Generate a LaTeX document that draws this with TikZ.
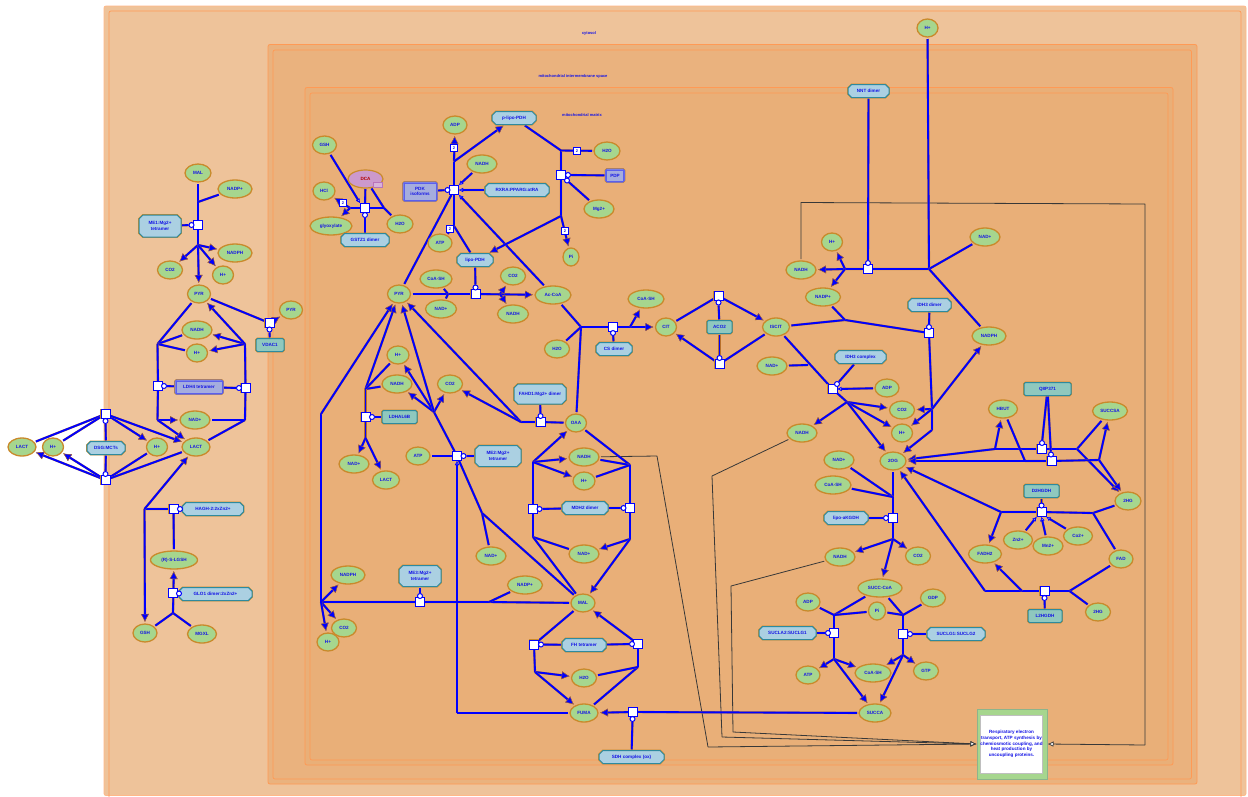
\documentclass[tikz,border=0pt]{standalone}
\usepackage{fontspec}
\setmainfont{Liberation Sans}
\usetikzlibrary{shapes.misc,shapes.geometric,arrows.meta}
\pgfdeclarelayer{comp}\pgfdeclarelayer{conn}
\pgfsetlayers{comp,conn,main}
\definecolor{cyto}{HTML}{EEC39A}
\definecolor{imsc}{HTML}{EAB27E}
\definecolor{matr}{HTML}{E9AF78}
\definecolor{bord}{HTML}{FF9A55}
\definecolor{spf}{HTML}{A6D68E}
\definecolor{spd}{HTML}{C98A2B}
\definecolor{prf}{HTML}{ABD0E2}
\definecolor{prd}{HTML}{2E8A9E}
\definecolor{tef}{HTML}{8FC8BE}
\definecolor{cxf}{HTML}{A5ADDE}
\definecolor{halo}{HTML}{B8702A}
\definecolor{txt}{HTML}{1414E6}
\tikzset{x=1pt,y=-1pt,
 every node/.style={font=\fontsize{4.6}{5.6}\selectfont\bfseries,text=txt,inner sep=0pt,align=center},
 sp/.style={ellipse,draw=spd,fill=spf,line width=1.3,minimum height=18,outer sep=2},
 pr/.style={chamfered rectangle,chamfered rectangle xsep=2,chamfered rectangle ysep=2,draw=prd,fill=prf,line width=1,preaction={draw=spd,line width=1.9},outer sep=1},
 te/.style={rectangle,rounded corners=1.5,draw=prd,fill=tef,line width=1,preaction={draw=spd,line width=1.9},outer sep=1},
 cx/.style={rectangle,rounded corners=1.5,draw=cxf!60!blue,fill=cxf,line width=1,preaction={draw=spd,line width=1.9},outer sep=1},
 rxbox/.style={rectangle,draw=blue,fill=white,line width=1,minimum size=9,preaction={draw=spd,line width=1.7}},
 cirm/.style={circle,draw=blue,fill=white,line width=1,minimum size=5},
 stbox/.style={rectangle,draw=blue,fill=white,line width=1,minimum size=7,font=\fontsize{4}{4}\selectfont\bfseries},
 rx/.style={draw=blue,line width=1.9,preaction={draw=halo,line width=2.2},line join=round},
 ar/.style={rx,-{Latex[length=8,width=8,color=halo,fill=blue,line width=.35]}},
 mo/.style={rx,-{Latex[length=4,width=4.5,open,color=blue,fill=white,line width=.7]}},
 thinl/.style={draw=black!78,line width=.8,line join=round},
 tharr/.style={thinl,-{Latex[open,length=6,width=5.5,color=black!80,fill=white,line width=.7]}},
 lbl/.style={font=\fontsize{4}{5}\selectfont\bfseries}
}
\newcommand{\Spec}[5]{\node[sp,minimum width=#4] (#1) at (#2,#3) {#5};}
\newcommand{\Prot}[6]{\node[pr,minimum width=#4,minimum height=#5] (#1) at (#2,#3) {#6};}
\newcommand{\Teal}[6]{\node[te,minimum width=#4,minimum height=#5] (#1) at (#2,#3) {#6};}
\newcommand{\Cplx}[6]{\node[cx,minimum width=#4,minimum height=#5] (#1) at (#2,#3) {#6};\draw[draw=cxf!55!blue,line width=.5] ([shift={(2,-2)}]#1.south west) rectangle ([shift={(-2,2)}]#1.north east);}
\newcommand{\Rx}[3]{\node[rxbox] (#1) at (#2,#3) {};}
\newcommand{\Cir}[3]{\node[cirm] (#1) at (#2,#3) {};}
\newcommand{\Stb}[3]{\node[stbox] (#1) at (#2,#3) {2};}
\newcommand{\J}[3]{\coordinate (#1) at (#2,#3);}
\begin{document}
\begin{tikzpicture}
\useasboundingbox (0,0) rectangle (1248,796);
\begin{pgfonlayer}{comp}
\fill[white] (0,0) rectangle (1248,796);
\draw[fill=cyto,draw=bord!70!white,line width=.8,rounded corners=2] (104,6) rectangle (1246,795.5);
\draw[draw=bord,line width=.7,rounded corners=2] (109,11) rectangle (1241,800);
\draw[fill=imsc,draw=bord,line width=.8,rounded corners=2] (268,44.5) rectangle (1197,784);
\draw[draw=bord,line width=.7,rounded corners=2] (273,50) rectangle (1191.5,779);
\draw[fill=matr,draw=bord,line width=.8,rounded corners=2] (305,87.5) rectangle (1173,765);
\draw[draw=bord,line width=.7,rounded corners=2] (310,93) rectangle (1168,760);
\end{pgfonlayer}
\node[lbl] (lcyt) at (589,33) {cytosol};
\node[lbl] (lims) at (573,76.5) {mitochondrial intermembrane space};
\node[lbl] (lmat) at (582,115.5) {mitochondrial matrix};
% ---------- cytosol left
\Spec{malA}{198}{173}{26}{MAL}
\Spec{nadppA}{235}{189}{34}{NADP+}
\Prot{meA}{160}{226}{42}{22}{ME1:Mg2+\\tetramer}
\Rx{sqA}{198}{225}\Cir{cA}{191.5}{225}
\J{jAa}{198}{202}\J{jAb}{198}{245}
\Spec{nadphA}{235}{253}{34}{NADPH}
\Spec{co2A}{170}{270}{25}{CO2}
\Spec{hA}{223}{275}{21}{H+}
\Spec{pyrA}{199}{294}{23}{PYR}
\Spec{pyrB}{291}{310}{23}{PYR}
\Teal{vdac}{270}{345}{28}{13}{VDAC1}
\Rx{sqV}{269.5}{323}\Cir{cV}{269.5}{329.5}
\Spec{nadhL}{197}{330}{30}{NADH}
\Spec{hL}{197}{353}{21}{H+}
\Cplx{ldh}{199}{387}{48}{14}{LDH4 tetramer}
\Rx{sqLl}{158}{386}\Cir{cLl}{164}{386}
\Rx{sqLr}{245.5}{388}\Cir{cLr}{239}{388}
\J{jLtl}{157.5}{344}\J{jLtr}{245}{344}\J{jLbl}{157.5}{420}\J{jLbr}{245}{420}
\Spec{nadL}{195}{420}{30}{NAD+}
\Spec{lactR}{196}{447}{28}{LACT}
\Spec{lactL}{22}{447}{28}{LACT}
\Spec{hM}{53}{447}{21}{H+}
\Spec{hR}{157}{447}{21}{H+}
\Prot{dsg}{106}{448}{38}{13}{DSG:MCTs}
\Rx{sqDt}{105.5}{414}\Cir{cDt}{105.5}{421}
\Rx{sqDb}{105.5}{480}\Cir{cDb}{105.5}{474}
\Prot{hagh}{213}{509}{61}{13}{HAGH-2:2xZn2+}
\Rx{sqH}{173.5}{509}\Cir{cH}{180}{509}\J{jH}{144.5}{509}
\Spec{lgsh}{174}{560}{47}{(R)-S-LGSH}
\Prot{glo}{215.5}{594}{73}{13}{GLO1 dimer:2xZn2+}
\Rx{sqG}{173}{593}\Cir{cG}{179}{593.5}\J{jG}{173}{613}
\Spec{gshA}{145}{633}{24}{GSH}
\Spec{mgxl}{202}{634}{29}{MGXL}
% ---------- matrix: DCA
\Spec{gshB}{324.5}{145}{24}{GSH}
\Spec{hcl}{324}{191}{22}{HCl}
\Spec{glyox}{331}{226}{42}{glyoxylate}
\node[ellipse,draw=spd,fill=violet!40!white,line width=1.2,minimum width=35,minimum height=18,text=red!70!black,outer sep=1] (dca) at (365.5,179) {DCA};
\node[rectangle,draw=violet!55,fill=violet!30!white,line width=.5,minimum width=9,minimum height=5] (dcab) at (378,184.5) {};
\Spec{h2oC}{400}{224}{26}{H2O}
\Prot{gstz}{365}{240}{48}{13}{GSTZ1 dimer}
\Rx{sqC}{365}{208}\Cir{cC}{365}{215}\J{jCl}{350}{208}\J{jCr}{384}{208}
\Stb{stC}{343}{203}
% PDK/PDH
\Spec{adpP}{455}{125}{24}{ADP}
\Prot{plipo}{514}{118}{44}{13}{p-lipo-PDH}
\Spec{nadhP}{482}{164}{30}{NADH}
\Cplx{pdk}{420}{191.5}{34}{19}{PDK\\isoforms}
\Rx{sqP}{454}{190}\Cir{cP}{447.5}{190}
\Prot{rxra}{517}{190}{64}{13}{RXRA:PPARG:atRA}
\J{jPu}{454}{161.5}\J{jPd}{454}{226}
\Stb{stPu}{454}{148}\Stb{stPd}{450}{229}
\Spec{atpP}{440}{243}{24}{ATP}
\Prot{lipo}{475}{260}{36}{13}{lipo-PDH}
\Spec{pyrM}{399}{294}{23}{PYR}
\Spec{coaA}{436}{279}{32}{CoA-SH}
\Spec{nadA}{441}{309}{31}{NAD+}
\Spec{co2P}{513}{276}{25}{CO2}
\Spec{nadhD}{513}{314}{31}{NADH}
\Spec{acoa}{553}{295}{36}{Ac-CoA}
\Rx{sqD}{475.5}{294}\Cir{cD}{475.5}{287.5}\J{jDl}{448}{294}\J{jDr}{500}{294}
\J{jQt}{561}{150.5}\J{jQb}{561}{216}
\Stb{stQa}{577}{151}\Stb{stQb}{565}{231}
\Spec{h2oQ}{607}{151}{26}{H2O}
\Rx{sqQ}{561}{175}\Cir{cQa}{568}{175}\Cir{cQb}{567}{180.5}
\Cplx{pdp}{615}{175.5}{19}{13}{PDP}
\Spec{mgQ}{599}{209}{30}{Mg2+}
\Spec{piQ}{571}{257}{16}{Pi}
% LDHAL6B / ME2 / FAHD
\Spec{hN}{398}{355}{22}{H+}
\Spec{nadhN}{397}{384}{30}{NADH}
\Spec{co2N}{450}{384}{25}{CO2}
\Teal{ldh6}{399.5}{417}{35}{13}{LDHAL6B}
\Rx{sqN}{365.5}{417}\Cir{cN}{372}{417}\J{jNt}{365.5}{389}\J{jNb}{365.5}{438}
\Spec{nadN}{354}{464}{30}{NAD+}
\Spec{lactN}{386}{480}{27}{LACT}
\Spec{atpE}{418}{456}{24}{ATP}
\Prot{me2}{498}{456}{46}{21}{ME2:Mg2+\\tetramer}
\Rx{sqE}{457}{456}\Cir{cE}{463.5}{456}
\J{jEu}{434}{412}\J{jEd}{482}{513}
\Spec{nadE}{491}{556}{30}{NAD+}
\Prot{fahd}{540}{394}{52}{20}{FAHD1:Mg2+ dimer}
\Rx{sqF}{540.5}{422}\Cir{cF}{540.5}{416}\J{jF}{521}{422}
\Spec{oaa}{576}{423}{21}{OAA}
% MDH2
\Spec{nadhO}{584}{457}{30}{NADH}
\Spec{hO}{584}{481}{22}{H+}
\Prot{mdh}{585}{508}{46}{13}{MDH2 dimer}
\Rx{sqOl}{533}{509}\Cir{cOl}{539.5}{509}
\Rx{sqOr}{630}{508}\Cir{cOr}{623.5}{508}
\J{jOtl}{533}{462}\J{jObl}{533}{537}\J{jOtr}{630}{465}\J{jObr}{630}{539}
\Spec{nadO}{584}{554}{30}{NAD+}
\Spec{malM}{583}{603}{24}{MAL}
% ME3
\Prot{me3}{420}{576}{42}{21}{ME3:Mg2+\\tetramer}
\Rx{sqT}{420}{602}\Cir{cT}{420}{596}\J{jTr}{489}{602}\J{jTl}{321}{602}\J{jTu}{321}{414}
\Spec{nadppT}{525}{585}{35}{NADP+}
\Spec{nadphT}{348}{575}{34}{NADPH}
\Spec{co2T}{344}{628}{25}{CO2}
\Spec{hT}{328}{642}{22}{H+}
% FH
\Prot{fh}{584}{645}{44}{13}{FH tetramer}
\Rx{sqHl}{534}{644.5}\Cir{cHl}{541}{644.5}
\Rx{sqHr}{638}{644}\Cir{cHr}{632}{644}
\J{jHl}{535}{672}\J{jHr}{638}{667}
\Spec{h2oH}{584}{678}{25}{H2O}
\Spec{fuma}{584}{713}{28}{FUMA}
\J{jFu}{457}{713}
\Rx{sqS}{633}{712}\Cir{cS}{632.5}{719}
\Prot{sdh}{631.5}{757}{65}{13}{SDH complex (ox)}
\Spec{succa}{875}{713}{32}{SUCCA}
% CS / ACO
\Spec{cit}{666}{327}{21}{CIT}
\Prot{cs}{614}{349}{36}{13}{CS dimer}
\Rx{sqCS}{613}{327}\Cir{cCS}{613}{333}
\J{jCSl}{581}{327}\J{jCSr}{630}{327}
\Spec{coaB}{646}{299}{36}{CoA-SH}
\Spec{h2oCS}{557}{349}{25}{H2O}
\Teal{aco}{719.5}{327}{25}{13}{ACO2}
\Rx{sqAt}{718.5}{296}\Cir{cAt}{718.5}{302.5}
\Rx{sqAb}{719.5}{364}\Cir{cAb}{719.5}{358}
\Spec{iscit}{776}{327}{27}{ISCIT}
% IDH3
\Prot{idh3}{860.5}{357}{51}{13}{IDH3 complex}
\Rx{sqI}{832.5}{389}\Cir{cI}{837}{384}
\Spec{adpI}{887}{388}{24}{ADP}
\Spec{nadI}{772}{366}{30}{NAD+}
\J{jIa}{808}{365}\J{jIb}{847}{402}
\Spec{co2I}{902}{410}{25}{CO2}
\Spec{hI}{902}{433}{21}{H+}
\Spec{nadhI}{802}{433}{30}{NADH}
\Spec{ogg}{893}{461}{26}{2OG}
\Prot{idh2}{929.5}{305}{43}{13}{IDH3 dimer}
\Rx{sqK}{929}{333}\Cir{cK}{929}{327}
\Spec{nadppK}{823}{297}{35}{NADP+}
\J{jKa}{845}{320}\J{jKb}{932}{430}\J{jKc}{932}{409}
\Spec{nadphK}{989}{336}{34}{NADPH}
% NNT
\Spec{hK}{832}{242}{21}{H+}
\Spec{nadhK}{801}{270}{30}{NADH}
\Rx{sqNN}{868}{269}\Cir{cNN}{868}{263}
\Prot{nnt}{868.5}{91}{41}{13}{NNT dimer}
\J{jNNl}{845}{269}\J{jNNr}{929}{269}
\Spec{hTop}{927.5}{28}{21}{H+}
\Spec{nadNN}{985}{237}{30}{NAD+}
% right cluster
\Teal{qbp}{1047.5}{389}{47}{13}{Q8P371}
\Spec{hbut}{1003}{409}{29}{HBUT}
\Spec{succsa}{1110}{411}{35}{SUCCSA}
\Spec{hgA}{1128}{501}{26}{2HG}
\Teal{d2}{1041.5}{491}{35}{13}{D2HGDH}
\Rx{sqDa}{1041.5}{512}\Cir{cDa}{1041.5}{505.5}
\Spec{zn}{1018}{540}{29}{Zn2+}
\Spec{mn}{1048}{546}{30}{Mn2+}
\Spec{co}{1078}{536}{29}{Co2+}
\Spec{fadh}{985}{554}{33}{FADH2}
\Spec{fad}{1121}{559}{24}{FAD}
\Spec{hgB}{1098}{612}{25}{2HG}
\Teal{l2}{1045}{616}{34}{13}{L2HGDH}
\Rx{sqLg}{1044.5}{591}\Cir{cLg}{1044.5}{598}
\J{jLgl}{985}{591}\J{jLgm}{1022}{591}\J{jLgr}{1069.5}{591}
\Rx{sqUa}{1041.5}{449}\Cir{cUa}{1042}{443}
\Rx{sqUb}{1051.5}{461}\Cir{cUb}{1051}{454.5}
\J{jUal}{995}{449}\J{jUar}{1077}{449}\J{jUbl}{1025}{461}\J{jUbr}{1099}{460}
\J{jDal}{1001}{512}\J{jDar}{1093}{513}
% KGDH / SUCLA
\Spec{nadK}{839}{460}{30}{NAD+}
\Spec{coaK}{833}{485}{36}{CoA-SH}
\J{jGa}{893}{497}\J{jGb}{893}{539}
\Rx{sqGk}{893}{518}\Cir{cGk}{886}{518}
\Prot{kgdh}{846}{518}{44}{13}{lipo-aKGDH}
\Spec{nadhG}{840}{557}{30}{NADH}
\Spec{co2G}{918}{556}{25}{CO2}
\Spec{scoa}{880}{588}{44}{SUCC-CoA}
\Spec{adpS}{808}{602}{24}{ADP}
\Spec{gdp}{933}{598}{25}{GDP}
\Spec{pis}{877}{611}{17}{Pi}
\J{jSl}{834}{615}\J{jSr}{903}{615}\J{jSlb}{834}{659}\J{jSrb}{903}{655}
\Rx{sqSl}{834}{633}\Cir{cSl}{828}{633}
\Rx{sqSr}{903}{634}\Cir{cSr}{910}{634}
\Prot{sucla}{787.5}{633}{57}{13}{SUCLA2:SUCLG1}
\Prot{suclg}{956}{634}{58}{13}{SUCLG1:SUCLG2}
\Spec{atpS}{808}{675}{24}{ATP}
\Spec{coaS}{873}{673}{36}{CoA-SH}
\Spec{gtp}{926}{671}{25}{GTP}
% white box
\node[rectangle,draw=green!35!black!45,fill=spf,line width=1,minimum width=70,minimum height=70] (resp) at (1012,744) {};
\node[rectangle,draw=black!25,fill=white,line width=.8,minimum width=59,minimum height=58] (respt) at (1011.5,744) {Respiratory electron\\transport, ATP synthesis by\\chemiosmotic coupling, and\\heat production by\\uncoupling proteins.};
% ---------- connectors
\begin{pgfonlayer}{conn}
\draw[thinl] (nadhK) -- (801,202.5) coordinate (tA) -- (1145,204) coordinate (tB) -- (1145,745) coordinate (tC);
\draw[tharr] (tC) -- (resp.east);
\draw[thinl] (nadhO) -- (657,456) coordinate (tD) -- (708,747) coordinate (tE);
\draw[tharr] (tE) -- (resp.west);
\draw[thinl] (nadhI) -- (712,476) coordinate (tF) -- (722,737) coordinate (tG);
\draw[tharr] (tG) -- (resp.west);
\draw[thinl] (nadhG) -- (731,586) coordinate (tH) -- (733,732) coordinate (tI);
\draw[tharr] (tI) -- (resp.west);
% ME1
\draw[rx] (malA)--(jAa)--(sqA.center)--(jAb);
\draw[rx] (nadppA)--(jAa);\draw[rx] (meA)--(cA);
\draw[ar] (jAb)--(pyrA);\draw[ar] (jAb)--(nadphA);\draw[ar] (jAb)--(co2A);\draw[ar] (jAb)--(hA);
\draw[rx] (pyrA)--(sqV.center);\draw[ar] (sqV.center)--(pyrB);\draw[rx] (vdac)--(cV);
% LDH
\draw[rx] (pyrA)--(jLtl);\draw[rx] (nadhL)--(jLtl);\draw[rx] (hL)--(jLtl);
\draw[rx] (jLtl)--(sqLl.center)--(jLbl);
\draw[ar] (jLbl)--(nadL);\draw[ar] (jLbl)--(lactR);
\draw[rx] (lactR)--(jLbr);\draw[rx] (nadL)--(jLbr);
\draw[rx] (jLbr)--(sqLr.center)--(jLtr);
\draw[ar] (jLtr)--(nadhL);\draw[ar] (jLtr)--(hL);\draw[ar] (jLtr)--(pyrA);
\draw[rx] (ldh)--(cLl);\draw[rx] (ldh)--(cLr);
% MCT
\draw[rx] (lactL)--(sqDt.center);\draw[rx] (hM)--(sqDt.center);
\draw[ar] (sqDt.center)--(hR);\draw[ar] (sqDt.center)--(lactR);
\draw[rx] (hR)--(sqDb.center);\draw[rx] (lactR)--(sqDb.center);
\draw[ar] (sqDb.center)--(lactL);\draw[ar] (sqDb.center)--(hM);
\draw[rx] (dsg)--(cDt);\draw[rx] (dsg)--(cDb);
% HAGH / GLO
\draw[rx] (lgsh)--(sqH.center)--(jH);\draw[ar] (jH)--(gshA);\draw[ar] (jH)--(lactR);
\draw[rx] (hagh)--(cH);
\draw[rx] (gshA)--(jG);\draw[rx] (mgxl)--(jG);\draw[ar] (jG)--(lgsh);\draw[rx] (glo)--(cG);
% DCA
\draw[mo] (gshB)--(sqC.north west);
\draw[rx] (dca)--(sqC);\draw[rx] (h2oC)--(jCr);\draw[rx] (dca)--(jCr);\draw[rx] (jCr)--(sqC);
\draw[rx] (sqC)--(jCl);\draw[ar] (jCl)--(hcl);\draw[ar] (jCl)--(glyox);
\draw[rx] (gstz)--(cC);
% PDK
\draw[ar] (jPu)--(adpP);\draw[ar] (jPu)--(plipo);
\draw[rx] (sqP.center)--(jPu);\draw[rx] (sqP.center)--(jPd);
\draw[rx] (pyrM)--(sqP);\draw[rx] (lipo)--(jPd);\draw[rx] (atpP)--(jPd);
\draw[rx] (pdk)--(cP);
\draw[mo] (nadhP)--(sqP.north east);
\draw[mo] (rxra)--(sqP.east);
\draw[mo] (acoa)--(sqP.south east);
% PDH
\draw[rx] (pyrM)--(sqD.center);\draw[ar] (sqD.center)--(acoa);
\draw[rx] (coaA)--(jDl);\draw[rx] (nadA)--(jDl);
\draw[ar] (jDr)--(co2P);\draw[ar] (jDr)--(nadhD);
\draw[rx] (lipo)--(cD);
% PDP
\draw[rx] (plipo)--(jQt)--(sqQ.center)--(jQb);\draw[rx] (jQt)--(h2oQ);
\draw[ar] (jQb)--(lipo);\draw[ar] (jQb)--(piQ);
\draw[rx] (pdp)--(cQa);\draw[rx] (mgQ)--(cQb);
% LDHAL6B
\draw[ar] (jNt)--(pyrM);\draw[rx] (nadhN)--(jNt);\draw[rx] (hN)--(jNt);
\draw[rx] (jNt)--(sqN.center)--(jNb);\draw[ar] (jNb)--(nadN);\draw[ar] (jNb)--(lactN);
\draw[rx] (ldh6)--(cN);
% ME2
\draw[rx] (sqE.center)--(jEu);\draw[ar] (jEu)--(hN);\draw[ar] (jEu)--(nadhN);\draw[ar] (jEu)--(co2N);\draw[ar] (jEu)--(pyrM);
\draw[rx] (atpE)--(sqE.center);\draw[rx] (me2)--(cE);
\draw[rx] (sqE.center)--(jEd);\draw[rx] (nadE)--(jEd);\draw[rx] (malM)--(jEd);
\draw[rx] (fuma)--(jFu);\draw[mo] (jFu)--(sqE.south);
% FAHD
\draw[rx] (oaa)--(sqF.center)--(jF);\draw[ar] (jF)--(pyrM);\draw[ar] (jF)--(co2N);\draw[rx] (fahd)--(cF);
% MDH
\draw[ar] (jOtl)--(oaa);\draw[ar] (jOtl)--(nadhO);\draw[ar] (jOtl)--(hO);
\draw[rx] (jOtl)--(sqOl.center)--(jObl);\draw[rx] (nadO)--(jObl);\draw[rx] (malM)--(jObl);
\draw[rx] (oaa)--(jOtr);\draw[rx] (nadhO)--(jOtr);\draw[rx] (hO)--(jOtr);
\draw[rx] (jOtr)--(sqOr.center)--(jObr);\draw[ar] (jObr)--(nadO);\draw[ar] (jObr)--(malM);
\draw[rx] (mdh)--(cOl);\draw[rx] (mdh)--(cOr);
% ME3
\draw[rx] (malM)--(jTr)--(sqT.center)--(jTl);\draw[rx] (nadppT)--(jTr);
\draw[ar] (jTl)--(nadphT);\draw[ar] (jTl)--(co2T);\draw[ar] (jTl)--(hT);
\draw[rx] (jTl)--(jTu);\draw[ar] (jTu)--(pyrM);
\draw[rx] (me3)--(cT);
% FH
\draw[rx] (malM)--(sqHl.center)--(jHl);\draw[ar] (jHl)--(h2oH);\draw[ar] (jHl)--(fuma);
\draw[rx] (fuma)--(jHr);\draw[rx] (h2oH)--(jHr);\draw[rx] (jHr)--(sqHr.center);\draw[ar] (sqHr.center)--(malM);
\draw[rx] (fh)--(cHl);\draw[rx] (fh)--(cHr);
% SDH
\draw[rx] (succa)--(sqS.center);\draw[ar] (sqS.center)--(fuma);\draw[rx] (sdh)--(cS);
% CS
\draw[rx] (oaa)--(jCSl);\draw[rx] (acoa)--(jCSl);\draw[rx] (h2oCS)--(jCSl);
\draw[rx] (jCSl)--(sqCS.center)--(jCSr);\draw[ar] (jCSr)--(cit);\draw[ar] (jCSr)--(coaB);
\draw[rx] (cs)--(cCS);
% ACO
\draw[rx] (cit)--(sqAt.center);\draw[ar] (sqAt.center)--(iscit);
\draw[rx] (iscit)--(sqAb.center);\draw[ar] (sqAb.center)--(cit);
\draw[rx] (aco)--(cAt);\draw[rx] (aco)--(cAb);
% IDH3
\draw[rx] (iscit)--(sqI.center)--(jIb);\draw[rx] (nadI)--(jIa);
\draw[ar] (jIb)--(co2I);\draw[ar] (jIb)--(hI);\draw[ar] (jIb)--(ogg);\draw[ar] (jIb)--(nadhI);
\draw[rx] (idh3)--(cI);\draw[mo] (adpI)--(sqI.east);
% IDH2
\draw[rx] (iscit)--(jKa)--(sqK.center)--(jKc)--(jKb);\draw[rx] (nadppK)--(jKa);
\draw[ar] (jKb)--(ogg);\draw[ar] (jKc)--(co2I);\draw[ar] (jKc)--(hI);\draw[ar] (jKc)--(nadphK);
\draw[rx] (idh2)--(cK);
% NNT
\draw[rx] (hTop)--(jNNr)--(sqNN.center)--(jNNl);
\draw[rx] (nadNN)--(jNNr);\draw[rx] (nadphK)--(jNNr);
\draw[ar] (jNNl)--(nadhK);\draw[ar] (jNNl)--(hK);\draw[ar] (jNNl)--(nadppK);
\draw[rx] (nnt)--(cNN);
% right cluster
\draw[ar] (jUal)--(hbut);\draw[ar] (jUal)--(ogg);
\draw[rx] (jUal)--(sqUa.center)--(jUar);\draw[rx] (succsa)--(jUar);\draw[ar] (jUar)--(hgA);
\draw[rx] (hbut)--(jUbl);\draw[ar] (jUbl)--(ogg);
\draw[rx] (jUbl)--(sqUb.center)--(jUbr);\draw[ar] (jUbr)--(succsa);\draw[ar] (jUbr)--(hgA);
\draw[rx] (qbp)--(cUa);\draw[rx] (qbp)--(cUb);
\draw[rx] (jDal)--(sqDa.center)--(jDar);\draw[rx] (hgA)--(jDar);\draw[rx] (fad)--(jDar);
\draw[ar] (jDal)--(fadh);\draw[ar] (jDal)--(ogg);
\draw[rx] (d2)--(cDa);
\draw[mo] (zn)--(sqDa.south west);\draw[mo] (mn)--(sqDa.south);\draw[mo] (co)--(sqDa.south east);
\draw[rx] (jLgl)--(jLgm)--(sqLg.center)--(jLgr);\draw[rx] (fad)--(jLgr);\draw[rx] (hgB)--(jLgr);
\draw[ar] (jLgm)--(fadh);\draw[ar] (jLgl)--(ogg);
\draw[rx] (l2)--(cLg);
% KGDH
\draw[rx] (ogg)--(jGa)--(sqGk.center)--(jGb);\draw[rx] (nadK)--(jGa);\draw[rx] (coaK)--(jGa);
\draw[ar] (jGb)--(nadhG);\draw[ar] (jGb)--(co2G);\draw[ar] (jGb)--(scoa);
\draw[rx] (kgdh)--(cGk);
% SUCL
\draw[rx] (scoa)--(jSl);\draw[rx] (pis)--(jSl);\draw[rx] (adpS)--(jSl);
\draw[rx] (scoa)--(jSr);\draw[rx] (pis)--(jSr);\draw[rx] (gdp)--(jSr);
\draw[rx] (jSl)--(sqSl.center)--(jSlb);\draw[rx] (jSr)--(sqSr.center)--(jSrb);
\draw[ar] (jSlb)--(atpS);\draw[ar] (jSlb)--(coaS);\draw[ar] (jSlb)--(succa);
\draw[ar] (jSrb)--(coaS);\draw[ar] (jSrb)--(gtp);\draw[ar] (jSrb)--(succa);
\draw[rx] (sucla)--(cSl);\draw[rx] (suclg)--(cSr);
\end{pgfonlayer}
\end{tikzpicture}
\end{document}
